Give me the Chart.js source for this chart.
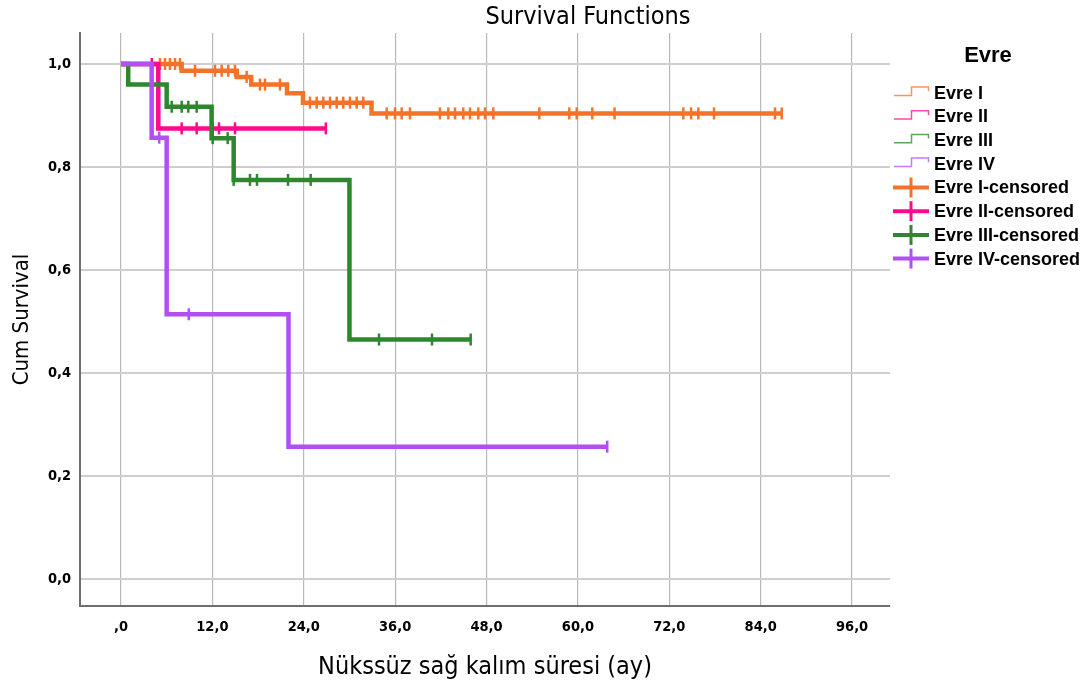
<!DOCTYPE html>
<html>
<head>
<meta charset="utf-8">
<script src="https://cdn.jsdelivr.net/npm/chart.js@4.4.1/dist/chart.umd.min.js"></script>
<style>
  html, body { margin: 0; padding: 0; background: #fff; }
  #wrap { width: 1089px; height: 682px; }
</style>
</head>
<body>
<div id="wrap"><canvas id="chart" width="1089" height="682"></canvas></div>
<script>
// ─── Data ─────────────────────────────────────────────────────────────────────

const groups = ["Evre I", "Evre II", "Evre III", "Evre IV"];
const colors = ["#F47328", "#FF0A8C", "#2E872E", "#B14FF5"];

// step times (months) and survival from that time on; last point = end of follow-up
const evre1Times = [0, 7.97, 15.2, 17.1, 21.8, 23.9, 32.9, 86.76];
const evre1Surv = [1, 0.987, 0.975, 0.96, 0.943, 0.925, 0.904, 0.904];
const evre1Censored = [5.12, 5.78, 6.43, 7.09, 7.75, 9.72, 12.34, 13.22, 14.09, 14.97,
  16.5, 18.25, 18.91, 20.88, 24.82, 25.7, 26.57, 27.45, 28.33, 29.19, 30.07, 30.95, 31.82,
  34.89, 35.98, 36.86, 37.95, 41.89, 42.98, 43.86, 44.95, 45.83, 46.92, 47.8, 48.89,
  54.93, 58.87, 59.84, 61.89, 64.81, 73.84, 74.86, 75.81, 77.87, 85.88, 86.76];

const evre2Times = [0, 4.9, 26.9];
const evre2Surv = [1, 0.875, 0.875];
const evre2Censored = [4.05, 7.97, 9.94, 12.04, 12.87, 14.97, 26.9];

const evre3Times = [0, 0.95, 6.0, 11.9, 14.8, 30.0, 45.92];
const evre3Surv = [1, 0.96, 0.917, 0.856, 0.775, 0.465, 0.465];
const evre3Censored = [4.03, 6.66, 7.97, 8.84, 9.94, 12.04, 14.01, 14.8, 16.94, 17.86,
  21.93, 24.91, 33.88, 40.84, 45.92];

const evre4Times = [0, 4.03, 6.0, 22.0, 63.85];
const evre4Surv = [1, 0.857, 0.514, 0.257, 0.257];
const evre4Censored = [5.03, 8.9, 63.85];

const xTicks = [0, 12, 24, 36, 48, 60, 72, 84, 96];
const xTickLabels = [",0", "12,0", "24,0", "36,0", "48,0", "60,0", "72,0", "84,0", "96,0"];
const yTicks = [0, 0.2, 0.4, 0.6, 0.8, 1.0];
const yTickLabels = ["0,0", "0,2", "0,4", "0,6", "0,8", "1,0"];

const allTimes = [evre1Times, evre2Times, evre3Times, evre4Times];
const allSurv = [evre1Surv, evre2Surv, evre3Surv, evre4Surv];
const allCensored = [evre1Censored, evre2Censored, evre3Censored, evre4Censored];

// ─── Helpers ──────────────────────────────────────────────────────────────────

function survAt(times, surv, t) {
  let s = surv[0];
  for (let i = 0; i < times.length; i++) if (times[i] <= t + 1e-9) s = surv[i];
  return s;
}

// draw order: purple on top, then pink, green, orange
const drawOrder = [3, 2, 1, 0];

const datasets = [];
groups.forEach((g, i) => {
  datasets.push({
    label: g,
    data: allTimes[i].map((t, k) => ({ x: t, y: allSurv[i][k] })),
    showLine: true,
    stepped: "before", // horizontal first, then drop: Kaplan-Meier style
    borderColor: colors[i],
    backgroundColor: colors[i],
    borderWidth: 4.5,
    pointRadius: 0,
    fill: false,
    order: drawOrder[i],
  });
});
groups.forEach((g, i) => {
  datasets.push({
    label: g + "-censored",
    data: allCensored[i].map((t) => ({ x: t, y: survAt(allTimes[i], allSurv[i], t) })),
    showLine: false,
    pointStyle: "line",
    rotation: 90,
    pointRadius: 6,
    pointBorderWidth: 2.5,
    borderColor: colors[i],
    backgroundColor: colors[i],
    order: drawOrder[i],
  });
});

// ─── Title + legend (drawn like the SPSS output) ──────────────────────────────

const sansFont = '"Liberation Sans", Arial, sans-serif';
const condFont = '"DejaVu Sans Condensed", "Liberation Sans", sans-serif';

const spssDecor = {
  id: "spssDecor",
  afterDraw(chart) {
    const ctx = chart.ctx;
    ctx.save();
    ctx.fillStyle = "#000";
    ctx.textBaseline = "middle";
    ctx.textAlign = "center";
    ctx.font = "25px " + condFont;
    ctx.fillText("Survival Functions", 588, 17);

    ctx.font = "bold 22px " + sansFont;
    ctx.fillText("Evre", 988, 56);

    ctx.textAlign = "left";
    ctx.font = "bold 18px " + sansFont;
    const rowY0 = 92.7, rowGap = 23.7;
    groups.forEach((g, i) => {
      const cy = rowY0 + i * rowGap;
      ctx.strokeStyle = colors[i];
      ctx.globalAlpha = 0.75;
      ctx.lineWidth = 1.5;
      ctx.beginPath();
      ctx.moveTo(894, cy + 2.7);
      ctx.lineTo(911.5, cy + 2.7);
      ctx.lineTo(911.5, cy - 5.7);
      ctx.lineTo(928.5, cy - 5.7);
      ctx.lineTo(928.5, cy - 1.5);
      ctx.stroke();
      ctx.globalAlpha = 1;
      ctx.fillText(g, 934, cy + 1);
    });
    groups.forEach((g, i) => {
      const cy = rowY0 + (i + 4) * rowGap;
      ctx.strokeStyle = colors[i];
      ctx.lineWidth = 4;
      ctx.beginPath();
      ctx.moveTo(893, cy);
      ctx.lineTo(929, cy);
      ctx.stroke();
      ctx.lineWidth = 3;
      ctx.beginPath();
      ctx.moveTo(911, cy - 10);
      ctx.lineTo(911, cy + 10);
      ctx.stroke();
      ctx.fillText(g + "-censored", 934, cy + 1);
    });
    ctx.restore();
  },
};

// ─── Chart ────────────────────────────────────────────────────────────────────

new Chart(document.getElementById("chart"), {
  type: "scatter",
  data: { datasets },
  plugins: [spssDecor],
  options: {
    responsive: false,
    animation: false,
    layout: { padding: { top: 33, right: 199, left: 0, bottom: 0 } },
    plugins: { legend: { display: false }, tooltip: { enabled: false } },
    scales: {
      x: {
        type: "linear",
        min: -5.38,
        max: 100.98,
        afterBuildTicks: (scale) => { scale.ticks = xTicks.map((v) => ({ value: v })); },
        afterFit: (scale) => { scale.height = 76; },
        ticks: {
          padding: 13,
          color: "#000",
          font: { family: condFont, size: 14.5, weight: "bold" },
          callback: (v) => xTickLabels[xTicks.indexOf(v)],
        },
        grid: { color: "#b9b9b9", lineWidth: 1.2, drawTicks: false },
        border: { display: true, color: "#6e6e6e", width: 2 },
        title: {
          display: true,
          text: "Nükssüz sağ kalım süresi (ay)",
          color: "#000",
          font: { family: condFont, size: 25 },
          padding: { top: 0, bottom: 0 },
        },
      },
      y: {
        type: "linear",
        min: -0.0524,
        max: 1.0602,
        afterBuildTicks: (scale) => { scale.ticks = yTicks.map((v) => ({ value: v })); },
        afterFit: (scale) => { scale.width = 80; },
        ticks: {
          padding: 9,
          color: "#000",
          font: { family: condFont, size: 14.5, weight: "bold" },
          callback: (v) => yTickLabels[yTicks.findIndex((t) => Math.abs(t - v) < 1e-6)],
        },
        grid: { color: "#cfcfcf", lineWidth: 2, drawTicks: false },
        border: { display: true, color: "#6e6e6e", width: 2 },
        title: {
          display: true,
          text: "Cum Survival",
          color: "#000",
          font: { family: condFont, size: 22 },
          padding: { top: 9, bottom: 0 },
        },
      },
    },
  },
});
</script>
</body>
</html>
